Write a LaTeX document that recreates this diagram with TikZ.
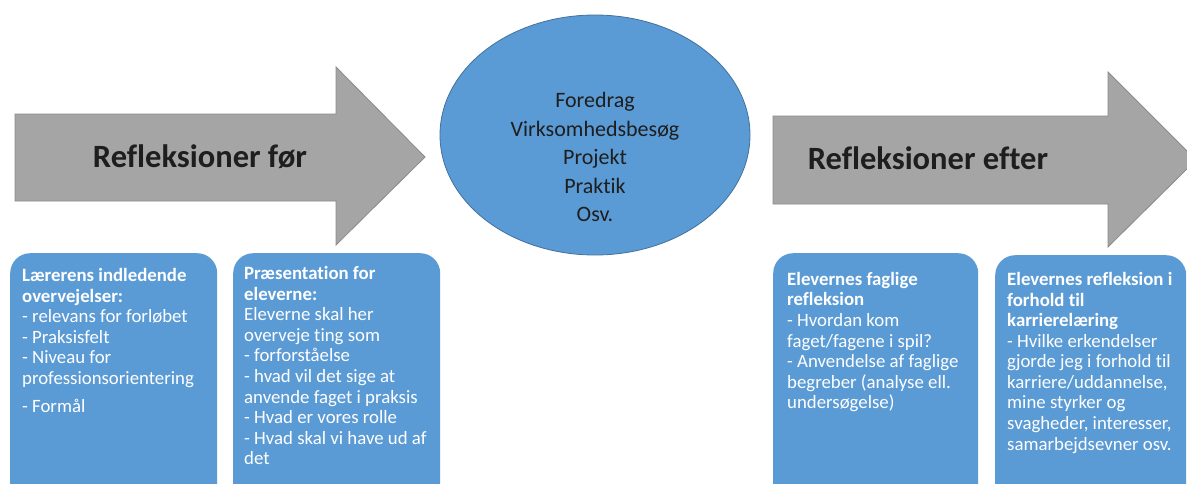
\documentclass[tikz,border=0pt]{standalone}
\usepackage{fontspec}
\setmainfont{Carlito}[Ligatures=NoCommon, Contextuals=NoAlternate]
\usetikzlibrary{shapes.geometric}
\definecolor{boxblue}{HTML}{5B9BD5}
\definecolor{ringblue}{HTML}{41719C}
\definecolor{arrowgray}{HTML}{A5A5A5}
\definecolor{arrowline}{HTML}{8A8A8A}
\definecolor{darktext}{HTML}{1E1E1E}
\begin{document}
\begin{tikzpicture}[x=1pt, y=-1pt,
			bluebox/.style={fill=boxblue, rounded corners=20pt, anchor=north west, inner sep=0},
			boxtext/.style={anchor=north west, inner sep=0, align=left, text=white, font=\fontsize{18.8}{20.6}\selectfont},
			bigarrow/.style={fill=arrowgray, draw=arrowline, line width=0.8pt},
			arrowtext/.style={inner sep=0, text=darktext, font=\fontsize{32.5}{38}\selectfont\bfseries},
		]
		\useasboundingbox (0,0) rectangle (1187,483);
		\draw[bigarrow] (15,114) -- (336,114) -- (336,67) -- (425,157) -- (336,245) -- (336,201) -- (15,201) -- cycle;
		\draw[bigarrow] (773,116) -- (1108,116) -- (1108,72) -- (1196,160) -- (1108,247) -- (1108,204) -- (773,204) -- cycle;
		\node[arrowtext] (before) at (200,157) {Refleksioner før};
		\node[arrowtext] (after) at (928,158) {Refleksioner efter};
		\node[ellipse, fill=boxblue, draw=ringblue, line width=0.8pt, minimum width=310pt, minimum height=240pt, inner sep=0] (activity) at (595,135) {};
		\node[inner sep=0, align=center, text=darktext, font=\fontsize{22}{28.5}\selectfont] (activitytext) at (595,157)
			{Foredrag\\Virksomhedsbesøg\\Projekt\\Praktik\\Osv.};
		\node[bluebox, minimum width=207pt, minimum height=260pt] (teacher) at (10,253) {};
		\node[bluebox, minimum width=207pt, minimum height=260pt] (intro) at (233,253) {};
		\node[bluebox, minimum width=205pt, minimum height=260pt] (subject) at (773,253) {};
		\node[bluebox, minimum width=191pt, minimum height=260pt] (career) at (995,255) {};
		\node[boxtext] (teachertext) at (22,268)
			{\textbf{Lærerens indledende}\\\textbf{overvejelser:}\\- relevans for forløbet\\- Praksisfelt\\- Niveau for\\professionsorientering\\[8pt]- Formål};
		\node[boxtext] (introtext) at (244,266)
			{\textbf{Præsentation for}\\\textbf{eleverne:}\\Eleverne skal her\\overveje ting som\\- forforståelse\\- hvad vil det sige at\\anvende faget i praksis\\- Hvad er vores rolle\\- Hvad skal vi have ud af\\det};
		\node[boxtext] (subjecttext) at (787,272)
			{\textbf{Elevernes faglige}\\\textbf{refleksion}\\- Hvordan kom\\faget/fagene i spil?\\- Anvendelse af faglige\\begreber (analyse ell.\\undersøgelse)};
		\node[boxtext] (careertext) at (1007,272)
			{\textbf{Elevernes refleksion i}\\\textbf{forhold til}\\\textbf{karrierelæring}\\- Hvilke erkendelser\\gjorde jeg i forhold til\\karriere/uddannelse,\\mine styrker og\\svagheder, interesser,\\samarbejdsevner osv.};
	\end{tikzpicture}
\end{document}
